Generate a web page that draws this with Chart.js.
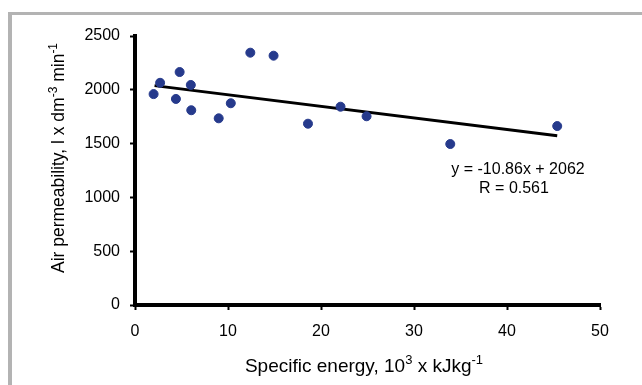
<!DOCTYPE html>
<html>
<head>
<meta charset="utf-8">
<script src="https://cdn.jsdelivr.net/npm/chart.js@4.4.1/dist/chart.umd.min.js"></script>
<style>
  html, body { margin: 0; padding: 0; background: #fff; }
  #wrap { position: relative; width: 642px; height: 385px; }
</style>
</head>
<body>
<div id="wrap"><canvas id="c" width="642" height="385"></canvas></div>
<script>
// Data
const energyX = [2.0, 2.7, 4.8, 4.4, 6.0, 6.05, 9.0, 10.3, 12.4, 14.9, 18.6, 22.1, 24.9, 33.9, 45.4];
const permeabilityY = [1960, 2065, 2165, 1915, 2045, 1810, 1735, 1875, 2345, 2317, 1685, 1843, 1754, 1496, 1663];
const trendX = [2.1, 45.4];
const trendY = [2038, 1573];
const xTicks = [0, 10, 20, 30, 40, 50];
const yTicks = [0, 500, 1000, 1500, 2000, 2500];
const equationText = 'y = -10.86x + 2062';
const rText = 'R = 0.561';
const xTitleParts = [['Specific energy, 10', false], ['3', true], [' x kJkg', false], ['-1', true]];
const yTitleParts = [['Air permeability, l x dm', false], ['-3', true], [' min', false], ['-1', true]];

const FONT = 'Arial, "Liberation Sans", sans-serif';

function drawRich(ctx, parts, cx, cy, size) {
  const subSize = Math.round(size * 0.66);
  let total = 0;
  const widths = parts.map(([t, sup]) => {
    ctx.font = (sup ? subSize : size) + 'px ' + FONT;
    const w = ctx.measureText(t).width;
    total += w;
    return w;
  });
  let x = cx - total / 2;
  ctx.textBaseline = 'alphabetic';
  ctx.textAlign = 'left';
  const base = cy + size * 0.36;
  parts.forEach(([t, sup], i) => {
    ctx.font = (sup ? subSize : size) + 'px ' + FONT;
    ctx.fillText(t, x, sup ? base - size * 0.42 : base);
    x += widths[i];
  });
}

const decor = {
  id: 'decor',
  beforeDraw(chart) {
    const ctx = chart.ctx;
    ctx.save();
    ctx.fillStyle = '#b3b3b3';
    ctx.fillRect(8, 12, 642 - 8, 3);
    ctx.fillRect(8, 12, 4, 385 - 12);
    ctx.restore();
  },
  afterDraw(chart) {
    const ctx = chart.ctx;
    ctx.save();
    ctx.fillStyle = '#000';
    drawRich(ctx, xTitleParts, 364, 365, 19);
    ctx.save();
    ctx.translate(58, 158);
    ctx.rotate(-Math.PI / 2);
    drawRich(ctx, yTitleParts, 0, 0, 17.5);
    ctx.restore();
    ctx.font = '16px ' + FONT;
    ctx.textAlign = 'center';
    ctx.textBaseline = 'middle';
    ctx.fillText(equationText, 518, 170);
    ctx.fillText(rText, 514, 189);
    ctx.restore();
  }
};

new Chart(document.getElementById('c'), {
  type: 'scatter',
  data: {
    datasets: [
      {
        label: 'points',
        data: energyX.map((x, i) => ({ x: x, y: permeabilityY[i] })),
        backgroundColor: '#263a8c',
        borderColor: '#263a8c',
        pointRadius: 4.5,
        pointHoverRadius: 4.5,
        order: 1
      },
      {
        label: 'trend',
        type: 'line',
        data: trendX.map((x, i) => ({ x: x, y: trendY[i] })),
        borderColor: '#000',
        borderWidth: 2.8,
        pointRadius: 0,
        fill: false,
        order: 2
      }
    ]
  },
  options: {
    responsive: false,
    animation: false,
    devicePixelRatio: 1,
    layout: { padding: { top: 36, right: 42, left: 0, bottom: 0 } },
    plugins: { legend: { display: false }, tooltip: { enabled: false } },
    scales: {
      x: {
        type: 'linear',
        min: 0, max: 50,
        afterBuildTicks: s => { s.ticks = xTicks.map(v => ({ value: v })); },
        afterFit: s => { s.height = 80; },
        ticks: { color: '#000', font: { size: 16, family: FONT }, padding: 12, maxRotation: 0,
                 callback: v => String(v) },
        grid: { drawOnChartArea: false, tickLength: 5, tickWidth: 2, tickColor: '#000' },
        border: { color: '#000', width: 4 }
      },
      y: {
        type: 'linear',
        min: 0, max: 2500,
        afterBuildTicks: s => { s.ticks = yTicks.map(v => ({ value: v })); },
        afterFit: s => { s.width = 135; },
        ticks: { color: '#000', font: { size: 16, family: FONT }, padding: 10,
                 callback: v => String(v) },
        grid: { drawOnChartArea: false, tickLength: 5, tickWidth: 2, tickColor: '#000' },
        border: { color: '#000', width: 4 }
      }
    }
  },
  plugins: [decor]
});
</script>
</body>
</html>
